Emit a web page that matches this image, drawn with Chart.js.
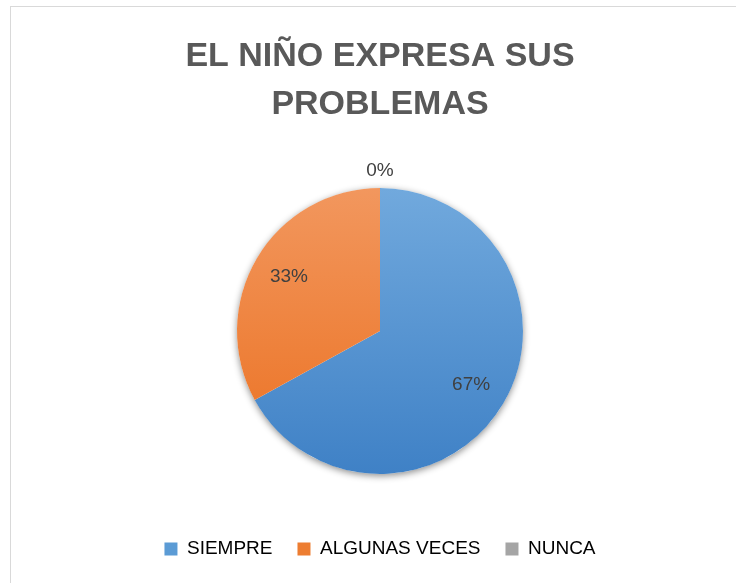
<!DOCTYPE html>
<html>
<head>
<meta charset="utf-8">
<script src="https://cdn.jsdelivr.net/npm/chart.js@4/dist/chart.umd.min.js"></script>
<style>
html,body{margin:0;padding:0;background:#fff;overflow:hidden;}
.frame{position:absolute;left:10px;top:6px;width:800px;height:700px;border:1px solid #d9d9d9;box-sizing:border-box;}
#wrap{position:absolute;left:0;top:0;width:736px;height:583px;}
</style>
</head>
<body>
<div class="frame"></div>
<div id="wrap"><canvas id="c" width="736" height="583"></canvas></div>
<script>
const categories = ['SIEMPRE', 'ALGUNAS VECES', 'NUNCA'];
const values = [67, 33, 0];
const percentLabels = ['67%', '33%', '0%'];
const titleLines = ['EL NIÑO EXPRESA SUS', 'PROBLEMAS'];

const pieRadius = 143;
const gradientStops = [
  ['#71a9dd', '#3f81c6'],
  ['#f2975e', '#eb7020'],
  ['#b5b5b5', '#8e8e8e']
];
const legendColors = ['#5b9bd5', '#ed7d31', '#a5a5a5'];
const FONT = '"Liberation Sans", Arial, sans-serif';

function sliceFill(ctx) {
  const chart = ctx.chart;
  const area = chart.chartArea;
  const stops = gradientStops[ctx.dataIndex];
  if (!area) return stops[0];
  const cy = (area.top + area.bottom) / 2;
  const g = chart.ctx.createLinearGradient(0, cy - pieRadius, 0, cy + pieRadius);
  g.addColorStop(0, stops[0]);
  g.addColorStop(1, stops[1]);
  return g;
}

const shadowPlugin = {
  id: 'pieShadow',
  beforeDatasetsDraw(chart) {
    const meta = chart.getDatasetMeta(0);
    const el = meta.data[0];
    if (!el) return;
    const c = chart.ctx;
    c.save();
    c.shadowColor = 'rgba(0,0,0,0.45)';
    c.shadowBlur = 7;
    c.shadowOffsetX = 0;
    c.shadowOffsetY = 2;
    c.beginPath();
    c.arc(el.x, el.y, el.outerRadius, 0, Math.PI * 2);
    c.fillStyle = '#ffffff';
    c.fill();
    c.restore();
  }
};

const labelPlugin = {
  id: 'sliceLabels',
  afterDatasetsDraw(chart) {
    const meta = chart.getDatasetMeta(0);
    const c = chart.ctx;
    c.save();
    c.font = '19px ' + FONT;
    c.fillStyle = '#404040';
    c.textAlign = 'center';
    c.textBaseline = 'middle';
    meta.data.forEach((el, i) => {
      const mid = (el.startAngle + el.endAngle) / 2;
      const r = values[i] > 0 ? el.outerRadius * 0.74 : el.outerRadius + 17;
      c.fillText(percentLabels[i], el.x + Math.cos(mid) * r, el.y + Math.sin(mid) * r);
    });
    c.restore();
  }
};

new Chart(document.getElementById('c'), {
  type: 'pie',
  data: {
    labels: categories,
    datasets: [{
      data: values,
      backgroundColor: sliceFill,
      borderWidth: 0,
      radius: pieRadius
    }]
  },
  options: {
    responsive: false,
    animation: false,
    layout: { padding: { left: 24, right: 0, top: 0, bottom: 14.5 } },
    plugins: {
      tooltip: { enabled: false },
      title: {
        display: true,
        text: titleLines,
        color: '#595959',
        font: { family: FONT, size: 34, weight: 'bold', lineHeight: 48 / 34 },
        padding: { top: 33, bottom: 18.5 }
      },
      legend: {
        position: 'bottom',
        labels: {
          color: '#595959',
          font: { family: FONT, size: 19 },
          boxWidth: 13,
          boxHeight: 13,
          padding: 25,
          generateLabels(chart) {
            return categories.map((t, i) => ({
              text: t,
              fillStyle: legendColors[i],
              strokeStyle: legendColors[i],
              lineWidth: 0,
              hidden: false,
              index: i
            }));
          }
        }
      }
    }
  },
  plugins: [shadowPlugin, labelPlugin]
});
</script>
</body>
</html>
